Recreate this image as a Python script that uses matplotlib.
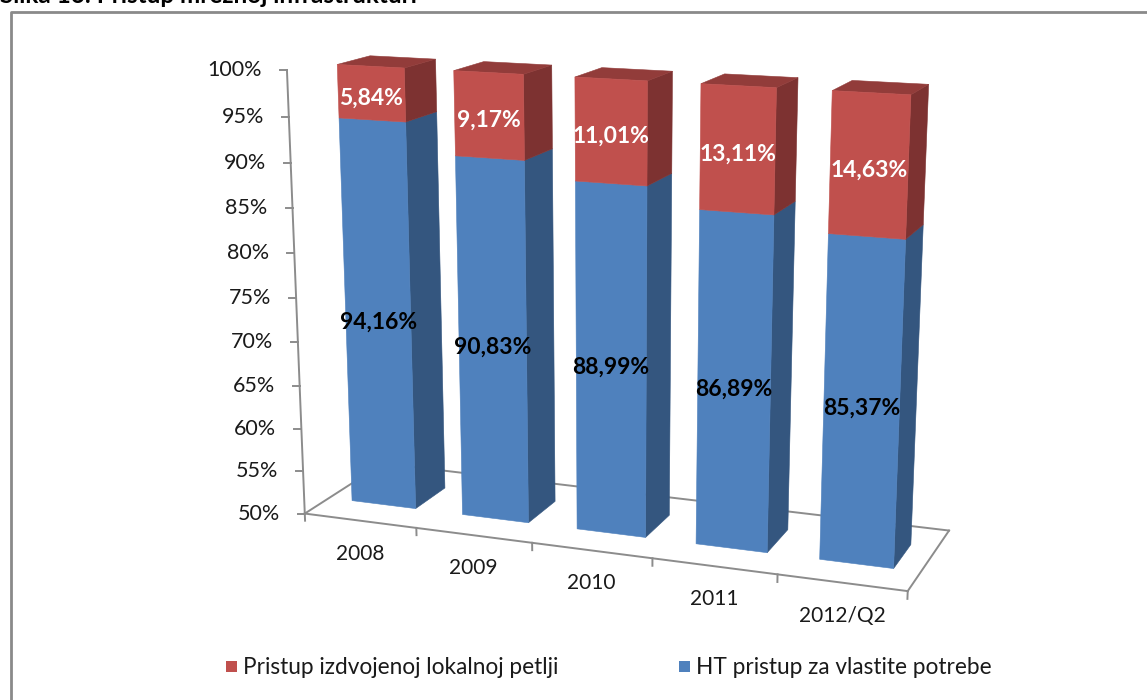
import numpy as np
import matplotlib.pyplot as plt
from matplotlib.patches import Polygon, Rectangle

plt.rcParams['font.family'] = ['Lato', 'DejaVu Sans']

# data
categories = ['2008', '2009', '2010', '2011', '2012/Q2']
ht_own = [94.16, 90.83, 88.99, 86.89, 85.37]      # HT pristup za vlastite potrebe
llu = [5.84, 9.17, 11.01, 13.11, 14.63]           # Pristup izdvojenoj lokalnoj petlji
value_ticks = [50, 55, 60, 65, 70, 75, 80, 85, 90, 95, 100]
series_names = ['Pristup izdvojenoj lokalnoj petlji', 'HT pristup za vlastite potrebe']
title = 'Slika 16: Pristup mrežnoj infrastrukturi'

VMIN, VMAX = 50.0, 100.0

# perspective of the 3D plot box: world (slot x, value 0..1, depth 0..1) -> pixel
anchor_world = [(0, 0, 0), (5, 0, 0), (5, 0, 1), (0, 0, 1),
                (1, 0, 0), (2, 0, 0), (3, 0, 0), (4, 0, 0),
                (0, 0.5, 0), (0, 1, 0)]
anchor_px = [(305, 514), (908, 591), (949, 531), (383, 463),
             (416, 528), (532, 543), (653, 558), (777, 574),
             (296, 298), (287, 70)]


def fit_camera(world, px):
    px = np.asarray(px, float)
    mu = px.mean(0)
    s = px.std()
    n = (px - mu) / s
    rows, rhs = [], []
    for (X, Y, Z), (u, v) in zip(world, n):
        rows.append([X, Y, Z, 1, 0, 0, 0, 0, -u * X, -u * Y, -u * Z]); rhs.append(u)
        rows.append([0, 0, 0, 0, X, Y, Z, 1, -v * X, -v * Y, -v * Z]); rhs.append(v)
    p = np.linalg.lstsq(np.array(rows), np.array(rhs), rcond=None)[0]
    return np.append(p, 1).reshape(3, 4), mu, s


M, MU, S = fit_camera(anchor_world, anchor_px)


def project(x, h, z):
    w = M @ np.array([x, h, z, 1.0])
    return np.array([w[0] / w[2] * S + MU[0], w[1] / w[2] * S + MU[1]])


def hval(v):
    return (min(max(v, VMIN), VMAX) - VMIN) / (VMAX - VMIN)


def signed_area(pts):
    x, y = pts[:, 0], pts[:, 1]
    return 0.5 * np.sum(x * np.roll(y, -1) - np.roll(x, -1) * y)


def draw_box(ax, x0, x1, h0, h1, z0, z1, front, side, top, with_top):
    faces = {
        'front': [(x0, h0, z0), (x0, h1, z0), (x1, h1, z0), (x1, h0, z0)],
        'right': [(x1, h0, z0), (x1, h1, z0), (x1, h1, z1), (x1, h0, z1)],
        'left': [(x0, h0, z0), (x0, h0, z1), (x0, h1, z1), (x0, h1, z0)],
        'top': [(x0, h1, z0), (x0, h1, z1), (x1, h1, z1), (x1, h1, z0)],
    }
    cols = {'front': front, 'right': side, 'left': side, 'top': top}
    proj = {k: np.array([project(*p) for p in v]) for k, v in faces.items()}
    ref = np.sign(signed_area(proj['front']))
    for k in ['left', 'right', 'top', 'front']:
        if k == 'top' and not with_top:
            continue
        if np.sign(signed_area(proj[k])) != ref:
            continue
        ax.add_patch(Polygon(proj[k], closed=True, facecolor=cols[k],
                             edgecolor=cols[k], linewidth=0.4, zorder=3))


fig = plt.figure(figsize=(11.47, 7.0), dpi=100)
ax = fig.add_axes([0, 0, 1, 1])
ax.set_xlim(0, 1147)
ax.set_ylim(700, 0)
ax.axis('off')

# outer frame and caption (its upper half lies above the picture, as in the source)
ax.plot([11, 11, 1160], [710, 12, 12], color='#8a8a8a', lw=2, zorder=1)
ax.text(0, 3, title, fontsize=17.5, fontweight='bold', va='baseline', ha='left')

grey = '#8c8c8c'
n = len(categories)

# floor outline
corners = [project(0, 0, 0), project(n, 0, 0), project(n, 0, 1), project(0, 0, 1)]
for a, b in [(3, 2), (0, 3), (1, 2), (0, 1)]:
    ax.plot([corners[a][0], corners[b][0]], [corners[a][1], corners[b][1]],
            color=grey, lw=1.4, zorder=2)

# value axis
top_pt = project(0, 1, 0)
ax.plot([corners[0][0], top_pt[0]], [corners[0][1], top_pt[1]], color=grey, lw=1.4, zorder=2)
for t in value_ticks:
    p = project(0, hval(t), 0)
    ax.plot([p[0] - 7, p[0]], [p[1], p[1]], color=grey, lw=1.4, zorder=2)
    ax.text(p[0] - 25, p[1], f'{t}%', ha='right', va='center', fontsize=15.5, color='#1a1a1a')

# category ticks and labels
for i in range(n + 1):
    p = project(i, 0, 0)
    q = project(i, -0.017, 0)
    ax.plot([p[0], q[0]], [p[1], q[1]], color=grey, lw=1.4, zorder=2)
for i, c in enumerate(categories):
    p = project(i + 0.5, 0, 0)
    ax.text(p[0], p[1] + 33, c, ha='center', va='center', fontsize=15, color='#1a1a1a')

# bars
bx0, bx1 = 0.21, 0.79
bz0, bz1 = 0.3, 0.7
for i in range(n):
    hb = hval(ht_own[i])
    ht = hval(ht_own[i] + llu[i])
    draw_box(ax, i + bx0, i + bx1, 0, hb, bz0, bz1,
             '#4F81BD', '#34567F', '#6A93C6', False)
    draw_box(ax, i + bx0, i + bx1, hb, ht, bz0, bz1,
             '#C0504D', '#7D3231', '#923C3A', True)
    p = project(i + 0.5, hb / 2, bz0)
    ax.text(p[0], p[1] + 5, f'{ht_own[i]:.2f}%'.replace('.', ','), ha='center', va='center',
            fontsize=16.5, fontweight='bold', color='black', zorder=5)
    p = project(i + 0.5, (hb + ht) / 2, bz0)
    ax.text(p[0], p[1] + 5, f'{llu[i]:.2f}%'.replace('.', ','), ha='center', va='center',
            fontsize=16.5, fontweight='bold', color='white', zorder=5)

# legend
leg_cols = ['#C0504D', '#4F81BD']
leg_x = [226, 679]
for name, col, x in zip(series_names, leg_cols, leg_x):
    ax.add_patch(Rectangle((x, 661), 11, 11, facecolor=col, edgecolor='none'))
    ax.text(x + 17, 667, name, ha='left', va='center', fontsize=16.3, color='#1a1a1a')

fig.savefig('out.png', dpi=100, facecolor='white')
